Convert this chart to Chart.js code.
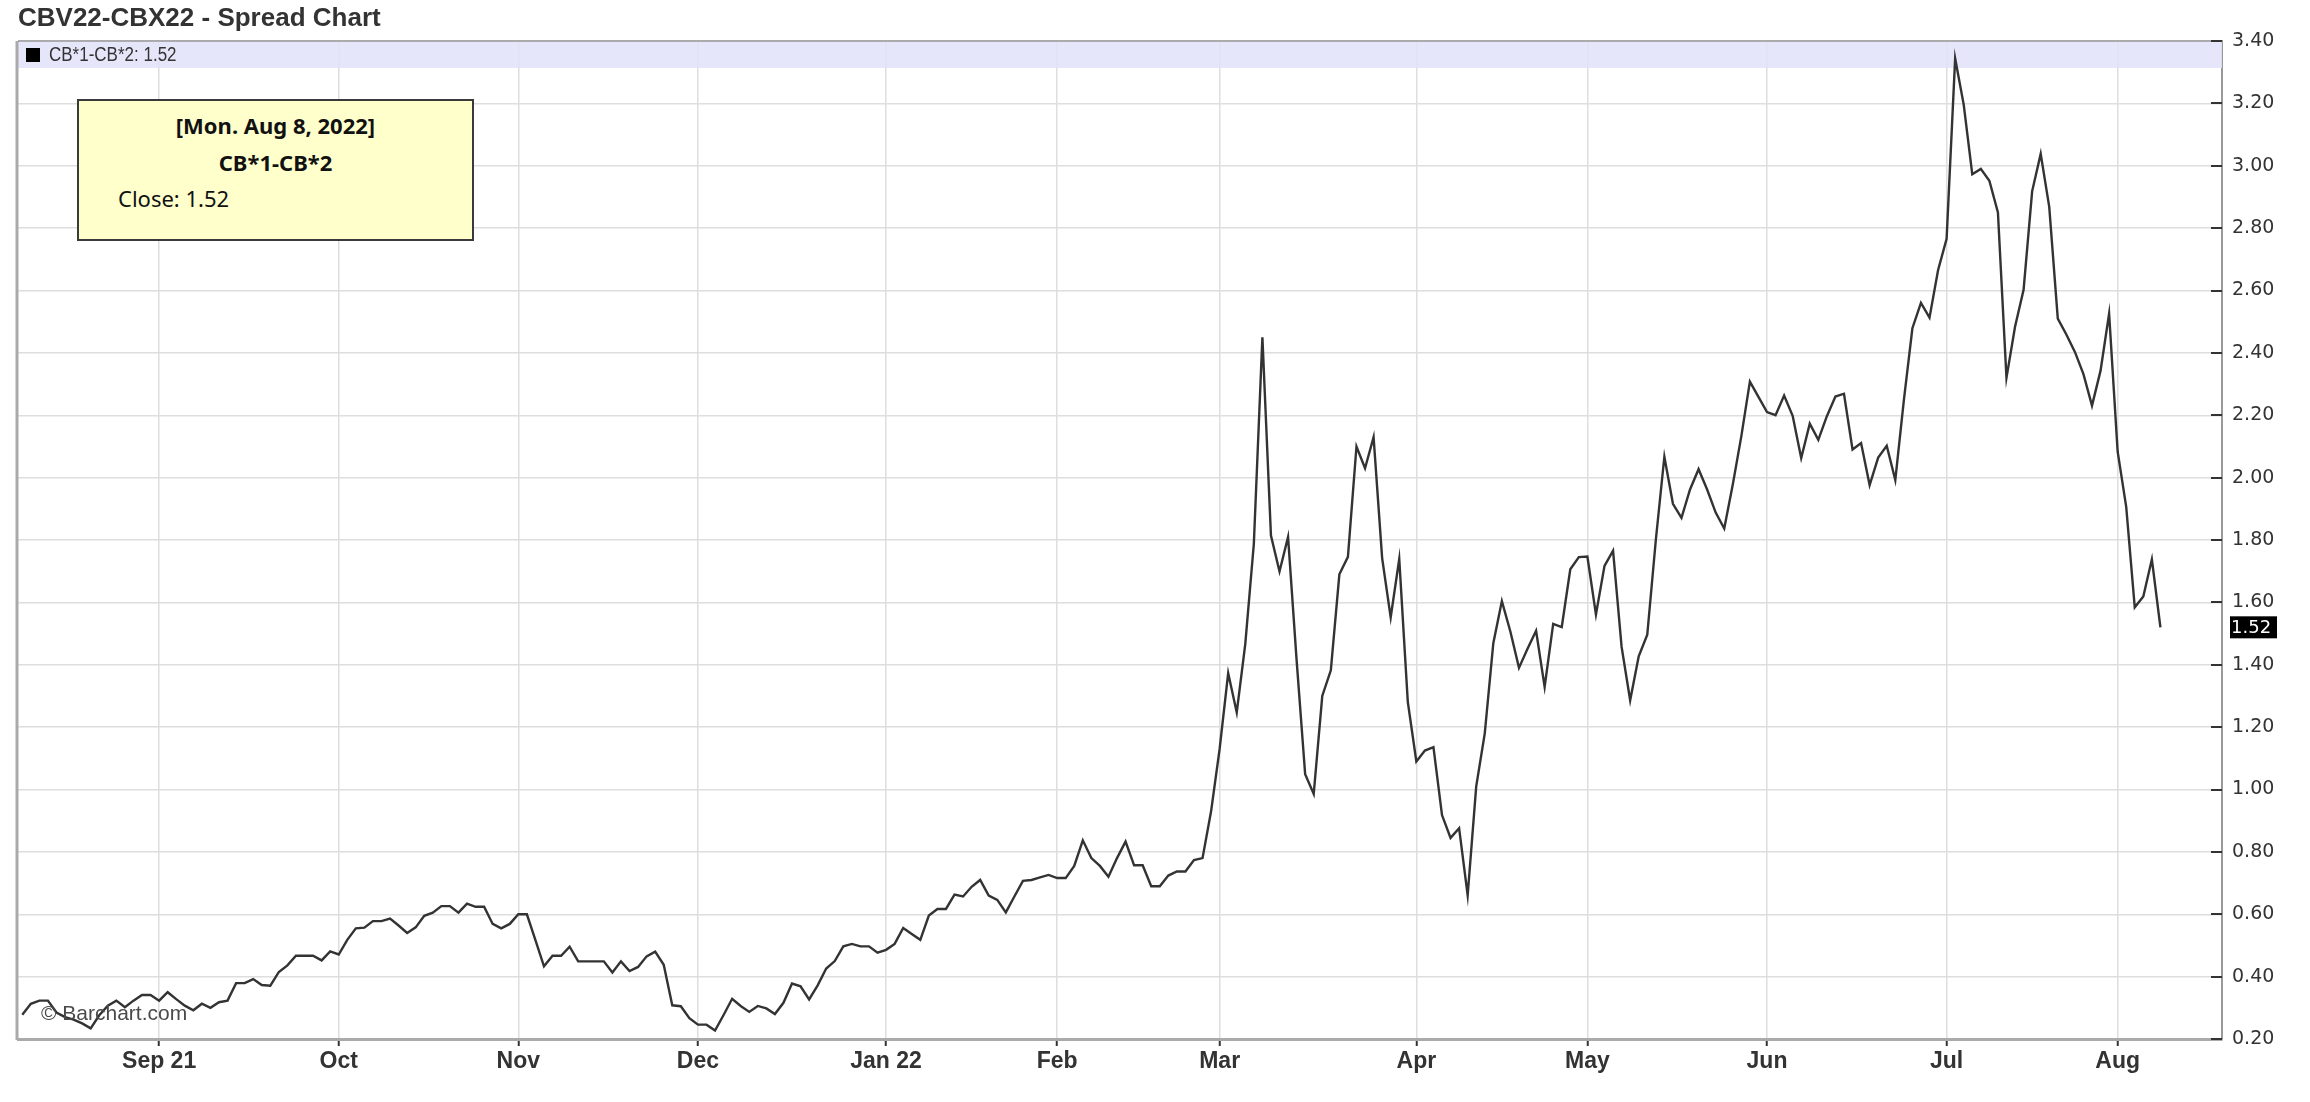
<!DOCTYPE html>
<html>
<head>
<meta charset="utf-8">
<title>CBV22-CBX22 - Spread Chart</title>
<script src="https://cdn.jsdelivr.net/npm/chart.js@4.4.1/dist/chart.umd.min.js"></script>
<style>
  html, body { margin: 0; padding: 0; background: #fff; }
  #wrap { position: relative; width: 2310px; height: 1102px; }
  #tip {
    position: absolute; left: 77px; top: 99px; width: 397px; height: 142px;
    box-sizing: border-box; background: #ffffcc; border: 2px solid #3a3a3a;
    font-family: 'Noto Sans', sans-serif; color: #111;
  }
  #tip div { position: absolute; height: 32px; line-height: 32px; white-space: nowrap; }
  #tip .c { left: 0; right: 0; text-align: center; font-weight: bold; font-size: 22px; }
  #tip .l { left: 39px; font-size: 22px; }
  #mark {
    position: absolute; left: 41px; top: 1001px; font-family: 'Liberation Sans', Arial, sans-serif;
    font-size: 21px; color: #4a4a4a; white-space: nowrap;
  }
</style>
</head>
<body>
<div id="wrap">
  <canvas id="myChart" width="2310" height="1102"></canvas>
  <div id="tip">
    <div class="c" style="top:8px">[Mon. Aug 8, 2022]</div>
    <div class="c" style="top:45px">CB*1-CB*2</div>
    <div class="l" style="top:81px">Close: 1.52</div>
  </div>
  <div id="mark">&copy; Barchart.com</div>
</div>
<script>
'use strict';

// ====================== DATA ======================//
// month labels on the x axis and the trading-day index where each month starts
let monthLabels = ['Sep 21', 'Oct', 'Nov', 'Dec', 'Jan 22', 'Feb', 'Mar', 'Apr', 'May', 'Jun', 'Jul', 'Aug'];
let monthStarts = [16, 37, 58, 79, 101, 121, 140, 163, 183, 204, 225, 245];

// y axis tick labels
let yTickValues = [0.2, 0.4, 0.6, 0.8, 1.0, 1.2, 1.4, 1.6, 1.8, 2.0, 2.2, 2.4, 2.6, 2.8, 3.0, 3.2, 3.4];

// daily close of the CB*1-CB*2 spread, Aug 2021 - Aug 8 2022 (one per trading day)
let spreadClose = [
  0.278, 0.313, 0.323, 0.323, 0.285, 0.27, 0.262, 0.25, 0.234, 0.276,
  0.307, 0.323, 0.302, 0.323, 0.341, 0.341, 0.323, 0.35, 0.328, 0.307,
  0.292, 0.313, 0.30, 0.318, 0.323, 0.379, 0.379, 0.392, 0.373, 0.371,
  0.415, 0.436, 0.467, 0.467, 0.467, 0.452, 0.481, 0.471, 0.518, 0.555,
  0.557, 0.578, 0.578, 0.586, 0.564, 0.54, 0.558, 0.595, 0.605, 0.626,
  0.626, 0.605, 0.634, 0.624, 0.624, 0.569, 0.555, 0.569, 0.60, 0.60,
  0.517, 0.433, 0.467, 0.467, 0.496, 0.449, 0.449, 0.449, 0.449, 0.413,
  0.449, 0.418, 0.431, 0.465, 0.48, 0.438, 0.308, 0.305, 0.267, 0.246,
  0.246, 0.227, 0.277, 0.329, 0.306, 0.287, 0.306, 0.298, 0.28, 0.316,
  0.378, 0.369, 0.327, 0.372, 0.426, 0.45, 0.497, 0.505, 0.497, 0.497,
  0.477, 0.486, 0.505, 0.556, 0.537, 0.518, 0.596, 0.617, 0.617, 0.663,
  0.657, 0.688, 0.71, 0.66, 0.646, 0.606, 0.657, 0.707, 0.71, 0.718,
  0.726, 0.716, 0.716, 0.755, 0.837, 0.78, 0.755, 0.72, 0.78, 0.833,
  0.757, 0.757, 0.69, 0.69, 0.724, 0.737, 0.737, 0.774, 0.78, 0.93,
  1.13, 1.373, 1.247, 1.467, 1.788, 2.45, 1.814, 1.699, 1.81, 1.415,
  1.049, 0.986, 1.30, 1.382, 1.69, 1.746, 2.10, 2.03, 2.13, 1.742,
  1.552, 1.739, 1.281, 1.09, 1.125, 1.136, 0.918, 0.845, 0.876, 0.661,
  1.01, 1.18, 1.469, 1.604, 1.506, 1.39, 1.451, 1.509, 1.329, 1.531,
  1.521, 1.706, 1.745, 1.747, 1.561, 1.717, 1.766, 1.457, 1.286, 1.427,
  1.496, 1.80, 2.067, 1.916, 1.871, 1.962, 2.027, 1.962, 1.888, 1.837,
  1.978, 2.133, 2.308, 2.259, 2.21, 2.20, 2.263, 2.198, 2.063, 2.173,
  2.121, 2.197, 2.26, 2.269, 2.09, 2.111, 1.976, 2.064, 2.102, 1.992,
  2.248, 2.479, 2.56, 2.513, 2.665, 2.766, 3.344, 3.196, 2.973, 2.99,
  2.952, 2.85, 2.32, 2.484, 2.602, 2.918, 3.038, 2.868, 2.51, 2.459,
  2.403, 2.332, 2.231, 2.343, 2.526, 2.083, 1.906, 1.584, 1.619, 1.738,
  1.52
];

let seriesName = 'CB*1-CB*2';
let lastClose = spreadClose[spreadClose.length - 1];

// ====================== PLUGINS ======================//
// lavender legend strip along the top of the plot
let bandPlugin = {
  id: 'band',
  beforeDatasetsDraw(chart) {
    let ctx = chart.ctx;
    let a = chart.chartArea;
    let text = seriesName + ': ' + lastClose.toFixed(2);
    ctx.save();
    ctx.fillStyle = 'rgba(226,226,250,0.88)';
    ctx.fillRect(a.left, a.top, a.right - a.left, 27);
    ctx.fillStyle = '#000';
    ctx.fillRect(a.left + 8, a.top + 7, 14, 14);
    ctx.fillStyle = '#333';
    // condensed look: taller glyphs squeezed to the same width
    ctx.font = '20px "Liberation Sans", Arial, sans-serif';
    ctx.textBaseline = 'middle';
    ctx.translate(a.left + 31, a.top + 14);
    ctx.scale(0.85, 1);
    ctx.fillText(text, 0, 0);
    ctx.restore();
  }
};

// frame, inward y ticks and the last value marker
let framePlugin = {
  id: 'frame',
  afterDraw(chart) {
    let ctx = chart.ctx;
    let a = chart.chartArea;
    let yScale = chart.scales.y;
    ctx.save();
    ctx.strokeStyle = '#aaa';
    ctx.lineWidth = 3;
    ctx.beginPath();
    ctx.moveTo(a.left - 1, a.top);
    ctx.lineTo(a.left - 1, a.bottom + 1);
    ctx.stroke();
    ctx.lineWidth = 1.5;
    ctx.strokeStyle = '#999';
    ctx.beginPath();
    ctx.moveTo(a.left, a.top);
    ctx.lineTo(a.right, a.top);
    ctx.stroke();

    ctx.strokeStyle = '#333';
    ctx.lineWidth = 2;
    for (let i = 0; i < yTickValues.length; i++) {
      let y = Math.round(yScale.getPixelForValue(yTickValues[i]));
      ctx.beginPath();
      ctx.moveTo(a.right - 11, y);
      ctx.lineTo(a.right, y);
      ctx.stroke();
    }

    let ly = yScale.getPixelForValue(lastClose);
    ctx.fillStyle = '#000';
    ctx.fillRect(a.right + 8, ly - 11, 47, 22);
    ctx.fillStyle = '#fff';
    ctx.font = '18px "DejaVu Sans", sans-serif';
    ctx.textBaseline = 'middle';
    ctx.fillText(lastClose.toFixed(2), a.right + 9, ly + 1);
    ctx.restore();
  }
};

// ====================== CHART ======================//
let points = [];
for (let i = 0; i < spreadClose.length; i++) {
  points.push({ x: i, y: spreadClose[i] });
}

let chartObject = {
  type: 'line',
  data: {
    datasets: [{
      label: seriesName,
      data: points,
      borderColor: '#333',
      borderWidth: 2.4,
      pointRadius: 0,
      tension: 0,
      fill: false
    }]
  },
  options: {
    responsive: false,
    animation: false,
    devicePixelRatio: 1,
    layout: { padding: { left: 18, right: 0, top: 0, bottom: 0 } },
    plugins: {
      legend: { display: false },
      tooltip: { enabled: false },
      title: {
        display: true,
        text: 'CBV22-CBX22 - Spread Chart',
        align: 'start',
        color: '#333',
        font: { family: '"Liberation Sans", Arial, sans-serif', size: 26, weight: 'bold' },
        padding: { top: 3, bottom: 6.8 }
      }
    },
    scales: {
      x: {
        type: 'linear',
        min: -0.5,
        max: 257.2,
        afterFit(scale) { scale.height = 63; },
        afterBuildTicks(scale) {
          scale.ticks = monthStarts.map(v => ({ value: v }));
        },
        ticks: {
          autoSkip: false,
          maxRotation: 0,
          padding: 2,
          color: '#333',
          font: { family: '"Liberation Sans", Arial, sans-serif', size: 23, weight: 'bold' },
          callback: (value, index) => monthLabels[index]
        },
        grid: { color: '#dedede', lineWidth: 1.5, tickLength: 7, tickColor: '#333', tickWidth: 2 },
        border: { color: '#aaa', width: 3 }
      },
      y: {
        position: 'right',
        min: 0.2,
        max: 3.4,
        afterFit(scale) { scale.width = 88; },
        afterBuildTicks(scale) {
          scale.ticks = yTickValues.map(v => ({ value: v }));
        },
        ticks: {
          padding: 10,
          color: '#333',
          font: { family: '"DejaVu Sans", sans-serif', size: 19 },
          callback: value => value.toFixed(2)
        },
        grid: { color: '#dedede', lineWidth: 1.5, drawTicks: false },
        border: { color: '#999', width: 2 }
      }
    }
  },
  plugins: [bandPlugin, framePlugin]
};

let ctx = document.getElementById('myChart').getContext('2d');
let myChart = new Chart(ctx, chartObject);
</script>
</body>
</html>
